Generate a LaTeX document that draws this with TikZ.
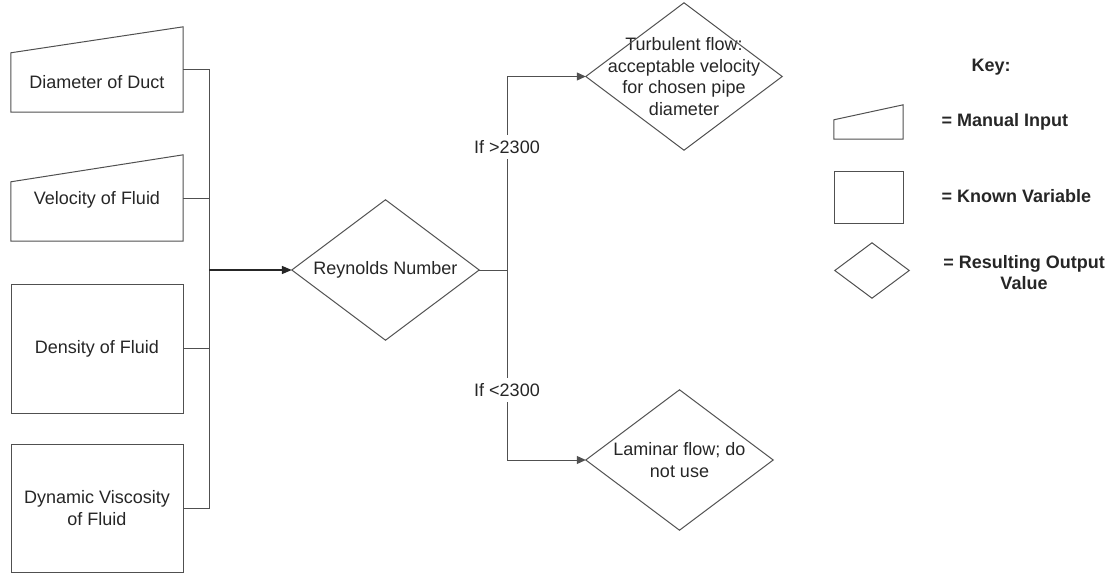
\documentclass[tikz,border=0pt]{standalone}
\usepackage{fontspec}
\setmainfont{Liberation Sans}
\usetikzlibrary{arrows.meta}
\definecolor{lc}{HTML}{505050}
\definecolor{tc}{HTML}{262626}
\begin{document}
\begin{tikzpicture}[x=1pt,y=-1pt,
  every node/.style={text=tc,font=\fontsize{18}{21.5}\selectfont},
  boxn/.style={minimum width=172pt,minimum height=#1,inner sep=0pt},
  outl/.style={draw=lc,line width=1pt,line join=miter},
  dia/.style={minimum width=#1,inner sep=0pt,align=center},
  conn/.style={draw=lc,line width=1pt},
  arr/.style={conn,-{Triangle[length=9pt,width=8pt]}},
  keytxt/.style={font=\fontsize{18}{21.5}\selectfont\bfseries,anchor=west}
]
\useasboundingbox (0,0) rectangle (1113,573);

% input boxes
\node[boxn=85pt] (d1) at (97,69.5) {};
\draw[outl] (d1.south west) -- (d1.south east) -- (d1.north east) -- ([yshift=-26pt]d1.north west) -- cycle;
\node (t1) at (97,82) {Diameter of Duct};

\node[boxn=86pt] (d2) at (97,198) {};
\draw[outl] (d2.south west) -- (d2.south east) -- (d2.north east) -- ([yshift=-27pt]d2.north west) -- cycle;
\node (t2) at (97,200) {Velocity of Fluid};

\node[boxn=129pt,outl] (d3) at (97,348.5) {Density of Fluid};

\node[boxn=128pt,outl,align=center] (d4) at (97,508) {Dynamic Viscosity\\of Fluid};

% bus
\coordinate (bus) at (209,270);
\draw[conn] (d1.east) -| (bus);
\draw[conn] (d2.east) -| (bus);
\draw[conn] (d3.east) -| (bus);
\draw[conn] (d4.east) -| (bus);

% Reynolds
\node[dia=187pt,minimum height=140pt] (rey) at (385.5,270) {Reynolds Number};
\draw[outl] (rey.west) -- (rey.north) -- (rey.east) -- (rey.south) -- cycle;
\draw[draw=black!85,line width=1.6pt,-{Triangle[length=10pt,width=8pt]}] (bus) -- (rey.west);

% outputs
\node[dia=196pt,minimum height=147pt] (turb) at (684,76.5) {Turbulent flow:\\acceptable velocity\\for chosen pipe\\diameter};
\draw[outl] (turb.west) -- (turb.north) -- (turb.east) -- (turb.south) -- cycle;

\node[dia=187pt,minimum height=140pt] (lam) at (679.5,460) {Laminar flow; do\\not use};
\draw[outl] (lam.west) -- (lam.north) -- (lam.east) -- (lam.south) -- cycle;

\coordinate (split) at (507,270);
\draw[conn] (rey.east) -- (split);
\draw[arr] (split) |- (turb.west);
\draw[arr] (split) |- (lam.west);
\node[fill=white,inner xsep=1pt,inner ysep=5pt] (gt) at (507,147) {If >2300};
\node[fill=white,inner xsep=1pt,inner ysep=5pt] (lt) at (507,390) {If <2300};

% key
\node[font=\fontsize{18}{21.5}\selectfont\bfseries] (key) at (991,67) {Key:};
\node[minimum width=69pt,minimum height=34pt,inner sep=0pt] (k1) at (868.5,122) {};
\draw[outl] (k1.south west) -- (k1.south east) -- (k1.north east) -- ([yshift=-15pt]k1.north west) -- cycle;
\node[keytxt] (k1t) at (938,122) {= Manual Input};

\node[outl,minimum width=69pt,minimum height=52pt,inner sep=0pt] (k2) at (868.5,197) {};
\node[keytxt] (k2t) at (938,196) {= Known Variable};

\node[minimum width=74pt,minimum height=55pt,inner sep=0pt] (k3) at (872,270.5) {};
\draw[outl] (k3.west) -- (k3.north) -- (k3.east) -- (k3.south) -- cycle;
\node[font=\fontsize{18}{21.5}\selectfont\bfseries,align=center] (k3t) at (1024,272.5) {= Resulting Output\\Value};
\end{tikzpicture}
\end{document}
